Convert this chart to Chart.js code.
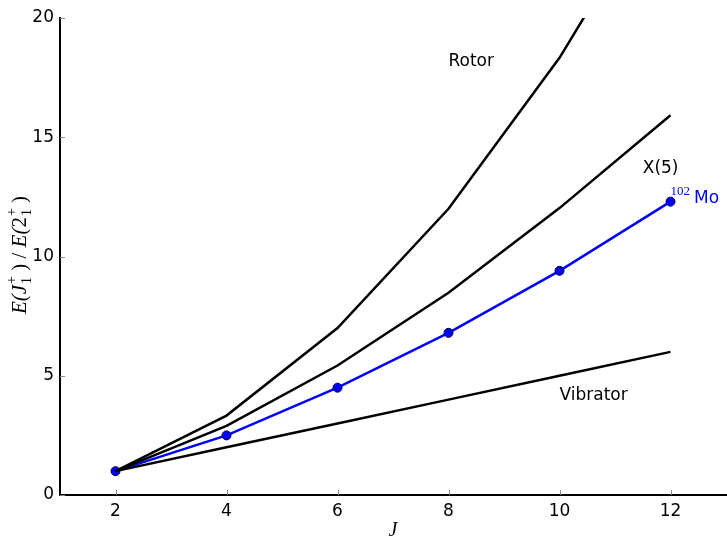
<!DOCTYPE html>
<html>
<head>
<meta charset="utf-8">
<script src="https://cdn.jsdelivr.net/npm/chart.js@4"></script>
<style>
  html, body { margin: 0; padding: 0; background: #fff; }
  #wrap { width: 727px; height: 540px; }
</style>
</head>
<body>
<div id="wrap"><canvas id="chart" width="727" height="540"></canvas></div>
<script>
// data
const spins = [2, 4, 6, 8, 10, 12];
const rotor = [1, 3.33, 7, 12, 18.33, 26];
const x5 = [1, 2.90, 5.43, 8.48, 12.03, 15.92];
const vibrator = [1, 2, 3, 4, 5, 6];
const mo102 = [1, 2.5, 4.5, 6.8, 9.4, 12.3];
const xTicks = [2, 4, 6, 8, 10, 12];
const yTicks = [0, 5, 10, 15, 20];

const toPoints = ys => spins.map((j, i) => ({ x: j, y: ys[i] }));

// inward ticks, axis titles and text labels
const extras = {
    id: 'extras',
    afterDraw(chart) {
        const ctx = chart.ctx;
        const xs = chart.scales.x, ys = chart.scales.y;
        const area = chart.chartArea;
        ctx.save();
        ctx.strokeStyle = '#888';
        ctx.lineWidth = 1;
        xTicks.forEach(v => {
            const px = Math.round(xs.getPixelForValue(v)) + 0.5;
            ctx.beginPath();
            ctx.moveTo(px, area.bottom);
            ctx.lineTo(px, area.bottom - 5);
            ctx.stroke();
        });
        yTicks.forEach(v => {
            const py = Math.round(ys.getPixelForValue(v)) + 0.5;
            ctx.beginPath();
            ctx.moveTo(area.left, py);
            ctx.lineTo(area.left + 5, py);
            ctx.stroke();
        });

        // annotations
        ctx.font = '17px "DejaVu Sans"';
        ctx.textBaseline = 'alphabetic';
        ctx.textAlign = 'left';
        ctx.fillStyle = '#000';
        ctx.fillText('Rotor', xs.getPixelForValue(8), ys.getPixelForValue(18));
        ctx.fillText('X(5)', xs.getPixelForValue(11.5), ys.getPixelForValue(13.5));
        ctx.fillText('Vibrator', xs.getPixelForValue(10), ys.getPixelForValue(4));

        ctx.fillStyle = '#0000ff';
        const mx = xs.getPixelForValue(12), my = ys.getPixelForValue(12.25);
        ctx.font = '13px "Liberation Serif"';
        ctx.fillText('102', mx, my - 8);
        const w = ctx.measureText('102').width;
        ctx.font = '17px "DejaVu Sans"';
        ctx.fillText('Mo', mx + w + 4, my);

        // x title
        ctx.fillStyle = '#000';
        ctx.font = 'italic 20px "Liberation Serif"';
        ctx.textAlign = 'center';
        ctx.fillText('J', (area.left + area.right) / 2, 536);

        // y title, rotated: E(J_1^+)/E(2_1^+)
        ctx.translate(26, 255);
        ctx.rotate(-Math.PI / 2);
        const big = 'italic 21px "Liberation Serif"';
        const bigUp = '21px "Liberation Serif"';
        const small = '14px "Liberation Serif"';
        // [text, font, dy, kind]  kind: 'n' normal, 'sub' subscript, 'sup' stacked over previous sub
        const parts = [
            ['E(', big, 0, 'n'],
            ['J', big, 0, 'n'],
            ['1', small, 5, 'sub'],
            ['+', small, -10, 'sup'],
            [' )', bigUp, 0, 'n'],
            [' / ', bigUp, 0, 'n'],
            ['E(', big, 0, 'n'],
            ['2', bigUp, 0, 'n'],
            ['1', small, 5, 'sub'],
            ['+', small, -10, 'sup'],
            [' )', bigUp, 0, 'n']
        ];
        const layout = [];
        let cx = 0, subStart = 0;
        parts.forEach(p => {
            ctx.font = p[1];
            const wd = ctx.measureText(p[0]).width;
            if (p[3] === 'sub') {
                subStart = cx + 1;
                layout.push([p, subStart]);
                cx = subStart + wd;
            } else if (p[3] === 'sup') {
                layout.push([p, subStart]);
                cx = Math.max(cx, subStart + wd);
            } else {
                layout.push([p, cx]);
                cx += wd;
            }
        });
        const offset = -cx / 2;
        ctx.textAlign = 'left';
        layout.forEach(([p, x]) => {
            ctx.font = p[1];
            ctx.fillText(p[0], x + offset, p[2]);
        });
        ctx.restore();
    }
};

const lineStyle = color => ({
    borderColor: color,
    borderWidth: 2.5,
    pointRadius: 0,
    fill: false,
    tension: 0
});

new Chart(document.getElementById('chart'), {
    type: 'line',
    data: {
        datasets: [
            { label: 'Rotor', data: toPoints(rotor), ...lineStyle('#000') },
            { label: 'X(5)', data: toPoints(x5), ...lineStyle('#000') },
            { label: 'Vibrator', data: toPoints(vibrator), ...lineStyle('#000') },
            {
                label: '102Mo', data: toPoints(mo102), ...lineStyle('#0000ff'),
                pointRadius: 4.5, pointBackgroundColor: '#0000ff',
                pointBorderColor: '#000033', pointBorderWidth: 1
            }
        ]
    },
    options: {
        responsive: false,
        animation: false,
        layout: { autoPadding: false, padding: { top: 18, right: 1, left: 0, bottom: 0 } },
        plugins: { legend: { display: false }, tooltip: { enabled: false } },
        scales: {
            x: {
                type: 'linear',
                min: 1, max: 13,
                afterFit: s => { s.height = 45; s.paddingLeft = 0; s.paddingRight = 0; },
                afterBuildTicks: s => { s.ticks = xTicks.map(v => ({ value: v })); },
                grid: { display: false, drawTicks: false },
                border: { display: true, color: '#000', width: 2 },
                ticks: { color: '#000', font: { family: 'DejaVu Sans', size: 17 }, padding: 6, maxRotation: 0 }
            },
            y: {
                type: 'linear',
                min: 0, max: 20,
                afterFit: s => { s.width = 60; },
                afterBuildTicks: s => { s.ticks = yTicks.map(v => ({ value: v })); },
                grid: { display: false, drawTicks: false },
                border: { display: true, color: '#000', width: 2 },
                ticks: { color: '#000', font: { family: 'DejaVu Sans', size: 17 }, padding: 6 }
            }
        }
    },
    plugins: [extras]
});
</script>
</body>
</html>
